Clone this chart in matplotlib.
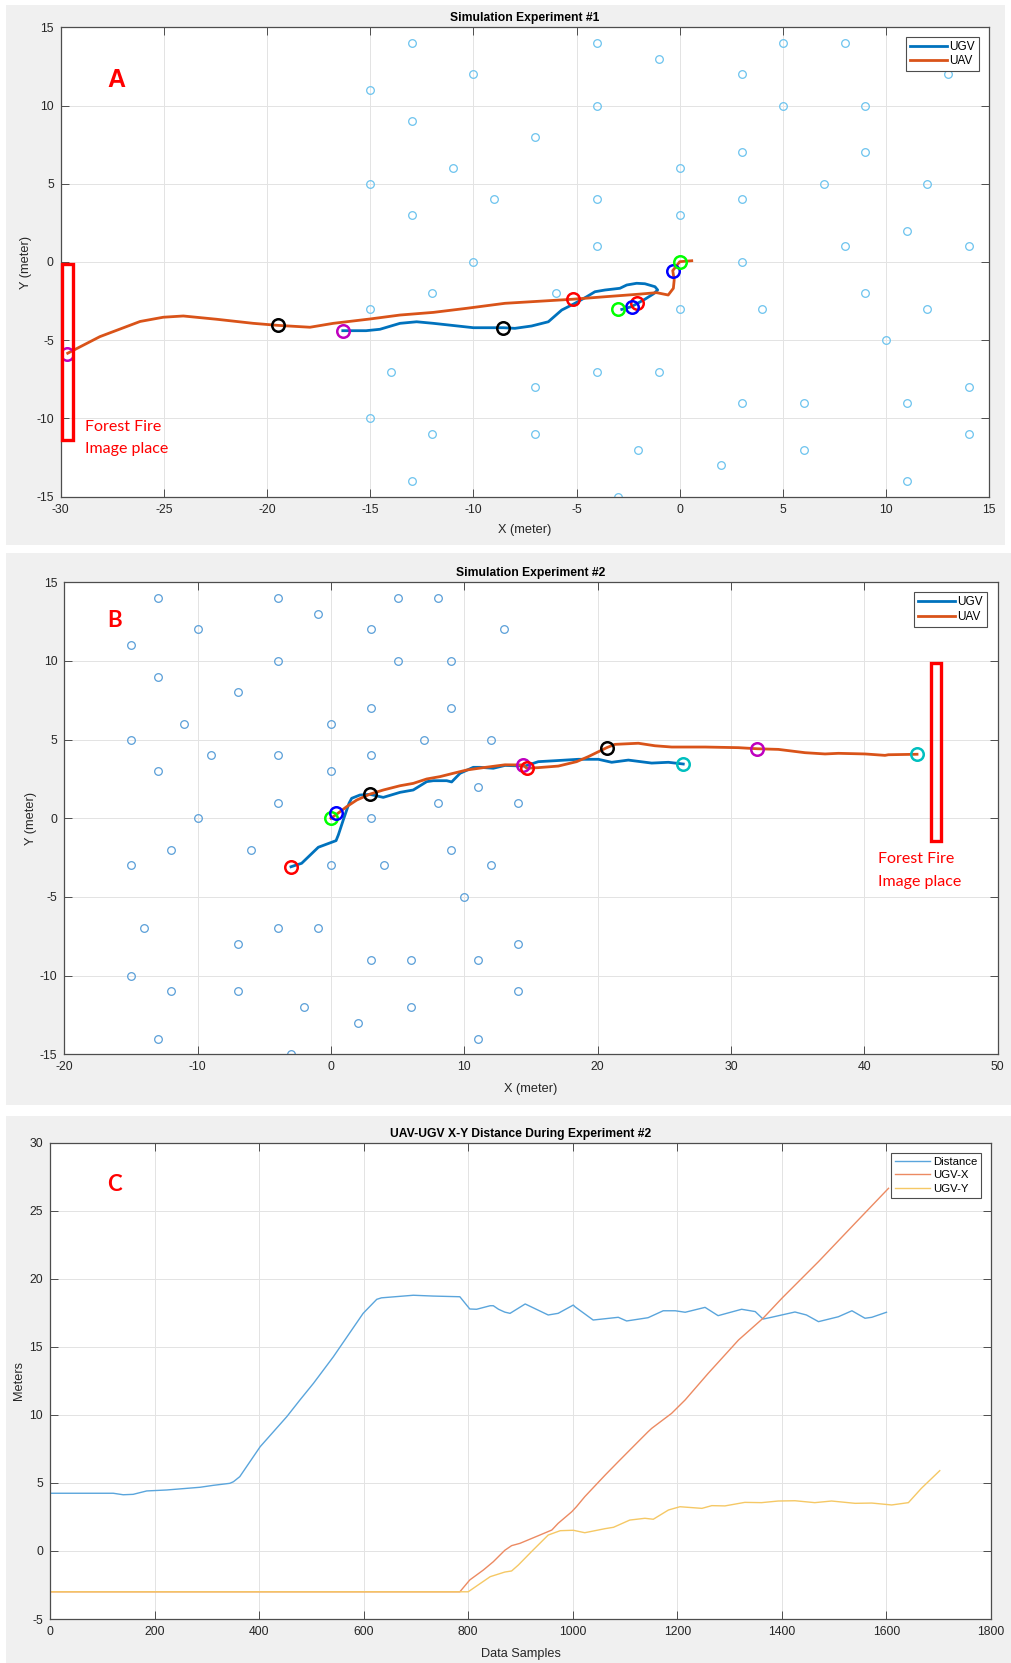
import matplotlib
matplotlib.use("Agg")
import matplotlib.pyplot as plt
from matplotlib.patches import Rectangle

plt.rcParams["font.family"] = ["Liberation Sans", "DejaVu Sans"]
plt.rcParams["axes.unicode_minus"] = False

# obstacle grid shared by both simulations
obs_x = [-13, -10, -15, -13, -11, -15, -9, -13, -10, -4, -1, 3, 5, 8, 13, -4, 5, 9, -7, 3,
         9, 0, 7, 12, -4, 3, 0, 11, -4, 8, 14, 3, -15, -12, -14, -15, -12, -13, -6, 9,
         0, 4, 12, 10, -4, -1, -7, 14, 3, 6, 11, -7, 14, -2, 6, 2, 11, -3]
obs_y = [14, 12, 11, 9, 6, 5, 4, 3, 0, 14, 13, 12, 14, 14, 12, 10, 10, 10, 8, 7,
         7, 6, 5, 5, 4, 4, 3, 2, 1, 1, 1, 0, -3, -2, -7, -10, -11, -14, -2, -2,
         -3, -3, -3, -5, -7, -7, -8, -8, -9, -9, -9, -11, -11, -12, -12, -13, -14, -15]

# experiment 1
uav1_x = [0.58, 0.0, -0.34, -0.27, -0.31, -0.56, -1.12, -2.01, -3.62, -5.19, -8.47, -10.33,
          -11.94, -13.56, -15.0, -16.79, -17.92, -19.48, -20.67, -22.44, -24.06, -25.03,
          -26.15, -28.1, -29.66]
uav1_y = [0.08, 0.02, -0.55, -1.15, -1.68, -2.11, -1.96, -2.06, -2.22, -2.38, -2.64, -2.96,
          -3.22, -3.39, -3.64, -3.92, -4.17, -4.05, -3.92, -3.66, -3.45, -3.53,
          -3.8, -4.77, -5.83]
ugv1_x = [-16.33, -15.2, -14.53, -13.56, -12.75, -11.94, -10.0, -8.55, -7.99, -7.18, -6.37,
          -5.72, -5.08, -4.51, -4.11, -3.62, -2.9, -2.57, -2.09, -1.69, -1.2, -1.07, -1.28,
          -1.69, -2.35, -2.81]
ugv1_y = [-4.39, -4.39, -4.3, -3.92, -3.82, -3.92, -4.2, -4.2, -4.24, -4.09, -3.82,
          -3.07, -2.64, -2.22, -1.9, -1.79, -1.68, -1.47, -1.36, -1.39, -1.58, -1.79, -2.04,
          -2.38, -2.86, -3.03]
marks1_x = [-29.7, -16.33, -19.48, -8.55, -5.19, -2.09, -0.34, -2.32, 0.0, -3.0]
marks1_y = [-5.9, -4.39, -4.05, -4.2, -2.38, -2.64, -0.55, -2.86, 0.0, -3.0]
marks1_c = ["m", "m", "k", "k", "r", "r", "b", "b", "lime", "lime"]

# experiment 2
uav2_x = [0.0, 0.38, 1.18, 1.93, 2.93, 3.93, 5.18, 6.17, 7.18, 8.18, 9.17, 10.18, 11.42,
          13.05, 14.42, 14.68, 15.55, 17.05, 18.42, 19.3, 20.68, 21.3, 23.05, 24.3, 25.55,
          28.05, 30.55, 31.97, 33.55, 35.55, 37.05, 38.05, 40.05, 41.55, 41.8, 43.95]
uav2_y = [0.0, 0.23, 0.74, 1.16, 1.54, 1.8, 2.07, 2.22, 2.5, 2.65, 2.86, 3.07, 3.22,
          3.4, 3.39, 3.18, 3.22, 3.32, 3.6, 3.92, 4.49, 4.7, 4.77, 4.61, 4.53,
          4.53, 4.49, 4.42, 4.38, 4.17, 4.09, 4.13, 4.09, 4.0, 4.04, 4.07]
ugv2_x = [-3.0, -2.2, -0.95, 0.38, 0.55, 0.92, 1.35, 1.55, 2.17, 2.93, 3.92, 5.18, 6.17,
          7.18, 7.67, 8.68, 9.05, 9.68, 10.67, 11.18, 12.17, 13.05, 14.55, 15.55, 16.8,
          18.55, 20.05, 21.05, 22.3, 24.05, 25.3, 26.42]
ugv2_y = [-3.08, -2.86, -1.84, -1.42, -1.06, -0.11, 0.95, 1.27, 1.48, 1.52, 1.33, 1.65, 1.8,
          2.33, 2.39, 2.39, 2.31, 2.86, 3.24, 3.24, 3.18, 3.36, 3.32, 3.6, 3.66,
          3.75, 3.75, 3.56, 3.7, 3.51, 3.56, 3.45]
marks2_x = [0.0, 0.38, -3.0, 14.42, 14.68, 2.93, 20.68, 31.97, 26.42, 43.95]
marks2_y = [0.0, 0.32, -3.08, 3.39, 3.18, 1.54, 4.49, 4.42, 3.45, 4.07]
marks2_c = ["lime", "b", "r", "m", "r", "k", "k", "m", "c", "c"]

# distance record for experiment 2
dist_n = [0, 121, 140, 159, 185, 223, 287, 312, 344, 351, 363, 402, 453, 478, 504, 542,
          599, 625, 634, 695, 733, 784, 803, 816, 842, 848, 858, 870, 880, 909, 953, 972,
          1001, 1004, 1039, 1087, 1103, 1144, 1173, 1196, 1215, 1253, 1278, 1323, 1349,
          1364, 1380, 1425, 1447, 1470, 1508, 1534, 1559, 1572, 1600]
dist_v = [4.24, 4.24, 4.13, 4.16, 4.41, 4.48, 4.68, 4.82, 4.97, 5.09, 5.46, 7.66, 9.87,
          11.09, 12.32, 14.27, 17.46, 18.49, 18.6, 18.79, 18.73, 18.68, 17.78, 17.76, 18.02,
          18.02, 17.76, 17.55, 17.46, 18.15, 17.34, 17.46, 18.07, 17.95, 16.97, 17.17, 16.9,
          17.14, 17.65, 17.65, 17.54, 17.9, 17.29, 17.76, 17.59, 17.04, 17.17, 17.56, 17.34,
          16.85, 17.21, 17.65, 17.1, 17.17, 17.54]
ugvx_n = [0, 784, 803, 829, 848, 870, 883, 899, 934, 960, 972, 998, 1007, 1023, 1062, 1087,
          1125, 1144, 1151, 1189, 1215, 1259, 1317, 1364, 1400, 1470, 1540, 1604]
ugvx_v = [-3, -3, -2.13, -1.4, -0.79, 0.05, 0.39, 0.56, 1.12, 1.54, 2.03, 2.88, 3.25, 3.99,
          5.58, 6.56, 8.03, 8.76, 9.01, 10.11, 11.1, 13.05, 15.5, 17.1, 18.57, 21.26, 24.08,
          26.65]
ugvy_n = [0, 800, 842, 870, 883, 896, 921, 953, 976, 1001, 1023, 1062, 1078, 1109, 1138,
          1154, 1183, 1205, 1247, 1266, 1291, 1329, 1361, 1393, 1425, 1463, 1495, 1540, 1572,
          1610, 1642, 1667, 1702]
ugvy_v = [-3, -3, -1.89, -1.55, -1.47, -1.03, -0.05, 1.17, 1.49, 1.52, 1.34, 1.64, 1.74,
          2.27, 2.4, 2.33, 3.01, 3.25, 3.13, 3.33, 3.31, 3.57, 3.55, 3.67, 3.69, 3.55, 3.67,
          3.5, 3.52, 3.38, 3.55, 4.61, 5.9]

UGV_C = "#0072bd"
UAV_C = "#d95319"
EDGE = "#4d4d4d"
TXT = "#262626"


def style_axes(ax, xlim, ylim, xticks, yticks):
    ax.set_xlim(xlim)
    ax.set_ylim(ylim)
    ax.set_xticks(xticks)
    ax.set_yticks(yticks)
    ax.grid(True, color="#e3e3e3", linewidth=0.7)
    ax.set_axisbelow(True)
    ax.tick_params(direction="in", length=6, width=0.7, color=EDGE, labelsize=8.8,
                   labelcolor=TXT, top=True, right=True, pad=5)
    for s in ax.spines.values():
        s.set_color(EDGE)
        s.set_linewidth(0.9)


def labels(ax, title, xl, yl, title_y, xl_y, yl_x):
    ax.text(0.5, title_y, title, transform=ax.transAxes, ha="center", va="baseline",
            fontsize=8.7, fontweight="bold", color="black")
    ax.text(0.5, xl_y, xl, transform=ax.transAxes, ha="center", va="baseline",
            fontsize=9.2, color=TXT)
    ax.text(yl_x, 0.5, yl, transform=ax.transAxes, ha="center", va="center",
            rotation=90, fontsize=9.2, color=TXT)


def legend(ax, anchor, lw, size, spacing):
    leg = ax.legend(loc="upper right", bbox_to_anchor=anchor, borderaxespad=0, fontsize=size,
                    handlelength=3.1, handletextpad=0.25, borderpad=0.35,
                    labelspacing=spacing, fancybox=False, edgecolor=EDGE, framealpha=1)
    leg.get_frame().set_linewidth(0.8)
    for line in leg.get_lines():
        line.set_linewidth(lw)


def fire_note(ax, x, y1, y2):
    for y, s in [(y1, "Forest Fire"), (y2, "Image place")]:
        ax.text(x, y, s, transform=ax.transAxes, ha="left", va="baseline",
                fontsize=11.5, color="red", family=["Lato", "DejaVu Sans"])


fig = plt.figure(figsize=(10.11, 16.63), dpi=100, facecolor="white")
W, H = 1011.0, 1663.0
for x0, y0, x1, y1 in [(6, 5, 1005, 545), (6, 553, 1011, 1105), (6, 1116, 1011, 1663)]:
    fig.patches.append(Rectangle((x0 / W, 1 - y1 / H), (x1 - x0) / W, (y1 - y0) / H,
                                 transform=fig.transFigure, facecolor="#f0f0f0",
                                 edgecolor="none", zorder=-10))

# --- experiment 1 ---
ax1 = fig.add_axes([60.7 / W, 1 - 496.7 / H, 928.6 / W, 469.4 / H])
style_axes(ax1, (-30, 15), (-15, 15), range(-30, 16, 5), range(-15, 16, 5))
ax1.plot(obs_x, obs_y, "o", mfc="none", mec="#6cc3ee", ms=5.5, mew=0.9, ls="none")
ax1.plot(ugv1_x, ugv1_y, color=UGV_C, lw=2, label="UGV")
ax1.plot(uav1_x, uav1_y, color=UAV_C, lw=2, label="UAV")
for x, y, c in zip(marks1_x, marks1_y, marks1_c):
    ax1.plot(x, y, "o", mfc="none", mec=c, ms=9, mew=1.8)
ax1.add_patch(Rectangle((-29.92, -11.37), 0.52, 11.26, fill=False, edgecolor="red",
                        lw=2.4, clip_on=False, zorder=5))
fire_note(ax1, 0.0262, 0.1406, 0.0924)
ax1.text(0.0499, 0.8728, "A", transform=ax1.transAxes, fontsize=18, fontweight="bold",
         color="red", va="baseline")
labels(ax1, "Simulation Experiment #1", "X (meter)", "Y (meter)", 1.0128, -0.0773, -0.0374)
legend(ax1, (0.9892, 0.98), 2, 8.5, 0.2)

# --- experiment 2 ---
ax2 = fig.add_axes([64.3 / W, 1 - 1054.3 / H, 933.4 / W, 472 / H])
style_axes(ax2, (-20, 50), (-15, 15), range(-20, 51, 10), range(-15, 16, 5))
ax2.plot(obs_x, obs_y, "o", mfc="none", mec="#5a9fd8", ms=5.5, mew=0.9, ls="none")
ax2.plot(ugv2_x, ugv2_y, color=UGV_C, lw=2, label="UGV")
ax2.plot(uav2_x, uav2_y, color=UAV_C, lw=2, label="UAV")
for x, y, c in zip(marks2_x, marks2_y, marks2_c):
    ax2.plot(x, y, "o", mfc="none", mec=c, ms=9, mew=1.8)
ax2.add_patch(Rectangle((44.98, -1.44), 0.75, 11.33, fill=False, edgecolor="red",
                        lw=2.4, clip_on=False, zorder=5))
fire_note(ax2, 0.8721, 0.4047, 0.3566)
ax2.text(0.0457, 0.9059, "B", transform=ax2.transAxes, fontsize=16, fontweight="bold",
         color="red", va="baseline", family=["Lato", "DejaVu Sans"])
labels(ax2, "Simulation Experiment #2", "X (meter)", "Y (meter)", 1.0127, -0.0792, -0.0357)
legend(ax2, (0.9889, 0.9788), 2, 8.5, 0.2)

# --- distance over samples ---
ax3 = fig.add_axes([50 / W, 1 - 1619 / H, 941 / W, 476.3 / H])
style_axes(ax3, (0, 1800), (-5, 30), range(0, 1801, 200), range(-5, 31, 5))
ax3.plot(dist_n, dist_v, color="#5aa5dc", lw=1.0, label="Distance")
ax3.plot(ugvx_n, ugvx_v, color="#ec8a62", lw=1.0, label="UGV-X")
ax3.plot(ugvy_n, ugvy_v, color="#f5c865", lw=1.0, label="UGV-Y")
ax3.text(0.0606, 0.8986, "C", transform=ax3.transAxes, fontsize=16, fontweight="bold",
         color="red", va="baseline", family=["Lato", "DejaVu Sans"])
labels(ax3, "UAV-UGV X-Y Distance During Experiment #2", "Data Samples", "Meters",
       1.0113, -0.0792, -0.0333)
legend(ax3, (0.9894, 0.9784), 1.0, 8.2, 0.3)

fig.savefig("out.png", dpi=100, facecolor="white")
